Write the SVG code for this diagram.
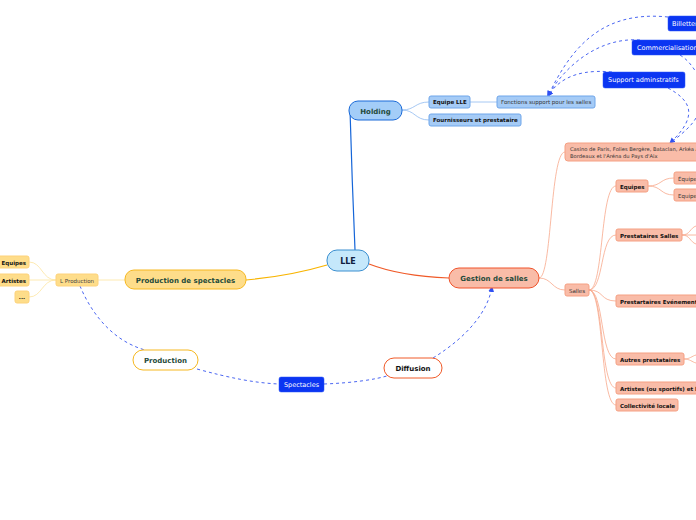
<svg xmlns="http://www.w3.org/2000/svg" width="696" height="520" viewBox="0 0 696 520">
<style>
text{font-family:"DejaVu Sans","Liberation Sans",sans-serif;}
.b{font-weight:bold;}
.dash{fill:none;stroke:#4a66f2;stroke-width:1;stroke-dasharray:3,3;}
.sal{fill:none;stroke:#f8a88c;stroke-width:0.8;}
.salN{fill:#f9bca8;stroke:#f5a083;stroke-width:1;}
.hold{fill:#a5cbf6;stroke:#6fa6ea;stroke-width:1;}
.dark{fill:#0b35f2;stroke:#2a55f5;stroke-width:0.5;}
.prodN{fill:#fedd8a;stroke:#fdd27a;stroke-width:1;}
.t6{font-size:6px;fill:#222;}
.w{fill:#fff;font-size:6.5px;}
</style>
<defs>
<marker id="ar" viewBox="0 0 6 6" refX="5" refY="3" markerWidth="6" markerHeight="6" orient="auto">
<path d="M0,0 L6,3 L0,6 z" fill="#2f50f2"/>
</marker>
</defs>
<rect width="696" height="520" fill="#fff"/>
<g id="connectors">
<path d="M355,250 Q352,180 350,110" fill="none" stroke="#1565d8" stroke-width="1.2"/>
<path d="M369,264 Q400,276 449,278" fill="none" stroke="#f05a28" stroke-width="1.2"/>
<path d="M327,265 Q290,276 246,280" fill="none" stroke="#f8b400" stroke-width="1.2"/>
<path d="M402,110 C415,110 415,102 429,102" fill="none" stroke="#8fbaf0" stroke-width="0.8"/>
<path d="M402,110 C415,110 415,120 429,120" fill="none" stroke="#8fbaf0" stroke-width="0.8"/>
<path d="M470,102 L497,102" fill="none" stroke="#8fbaf0" stroke-width="0.8"/>
<path d="M539,278 C552,278 550,152 565,152" class="sal"/>
<path d="M539,278 C552,278 552,290 565,290" class="sal"/>
<path d="M589,290 C604,290 600,186 616,186" class="sal"/>
<path d="M589,290 C604,290 600,235 616,235" class="sal"/>
<path d="M589,290 C604,290 600,301 616,301" class="sal"/>
<path d="M589,290 C604,290 600,359 616,359" class="sal"/>
<path d="M589,290 C604,290 600,388 616,388" class="sal"/>
<path d="M589,290 C604,290 600,405 616,405" class="sal"/>
<path d="M648,186 C662,186 660,178 674,178" class="sal"/>
<path d="M648,186 C662,186 660,195 674,195" class="sal"/>
<path d="M682,235 C690,235 690,228 696,226" class="sal"/>
<path d="M682,235 L696,235" class="sal"/>
<path d="M682,235 C690,235 690,242 696,244" class="sal"/>
<path d="M684,359 C690,359 692,356 696,355" class="sal"/>
<path d="M684,359 C690,359 692,362 696,363" class="sal"/>
<path d="M98,280 L125,280" fill="none" stroke="#fde4a0" stroke-width="0.8"/>
<path d="M56,280 C42,280 42,262 29,262" fill="none" stroke="#fde4a0" stroke-width="0.8"/>
<path d="M56,280 L29,280" fill="none" stroke="#fde4a0" stroke-width="0.8"/>
<path d="M56,280 C42,280 42,297 29,297" fill="none" stroke="#fde4a0" stroke-width="0.8"/>
<path d="M668,17 C600,10 570,50 548,96" class="dash" marker-end="url(#ar)"/>
<path d="M640,40 C600,37 565,65 548,96" class="dash" marker-end="url(#ar)"/>
<path d="M612,72 C570,68 555,85 548,96" class="dash" marker-end="url(#ar)"/>
<path d="M680,55 C688,60 692,66 696,72" class="dash"/>
<path d="M668,88 C690,100 700,115 670,143" class="dash" marker-end="url(#ar)"/>
<path d="M696,118 C690,128 680,135 672,142" class="dash"/>
<path d="M80,286 C90,310 110,340 145,350" class="dash"/>
<path d="M197,369 C230,378 255,383 279,384" class="dash"/>
<path d="M324,384 C350,383 375,380 390,375" class="dash"/>
<path d="M433,358 C470,335 488,310 492,287" class="dash" marker-end="url(#ar)"/>
</g>
<g id="lle">
<rect x="327" y="250" width="42" height="21" rx="10" fill="#c5e8fb" stroke="#3a8fd0" stroke-width="1"/>
<text x="348" y="264" text-anchor="middle" class="b" font-size="8" fill="#102040">LLE</text>
</g>
<g id="holding">
<rect x="349" y="101" width="53" height="19" rx="9" fill="#a3cdf8" stroke="#1a6ad8" stroke-width="1"/>
<text x="375.5" y="113.5" text-anchor="middle" class="b" font-size="7" fill="#1f4a3a">Holding</text>
</g>
<g id="equipe-lle">
<rect x="429" y="96" width="41" height="12" rx="2" class="hold"/>
<text x="433" y="104" class="b" font-size="5.5" fill="#111">Equipe LLE</text>
</g>
<g id="fournisseurs">
<rect x="429" y="114" width="92" height="12" rx="2" class="hold"/>
<text x="433" y="122" class="b" font-size="5.5" fill="#111">Fournisseurs et prestataire</text>
</g>
<g id="fonctions">
<rect x="497" y="96" width="98" height="12" rx="2" class="hold"/>
<text x="501" y="104" font-size="5.5" fill="#333">Fonctions support pour les salles</text>
</g>
<g id="billetterie">
<rect x="668" y="16" width="40" height="15" rx="2" class="dark"/>
<text x="672" y="26" class="w">Billetterie</text>
</g>
<g id="commercialisation">
<rect x="632" y="40" width="70" height="15" rx="2" class="dark"/>
<text x="637" y="50" class="w">Commercialisation</text>
</g>
<g id="support">
<rect x="603" y="72" width="82" height="16" rx="2" class="dark"/>
<text x="608" y="82" class="w">Support adminstratifs</text>
</g>
<g id="casino">
<rect x="565" y="143" width="145" height="18" rx="3" class="salN"/>
<text x="570" y="151" font-size="5.2" fill="#333">Casino de Paris, Folies Bergère, Bataclan, Arkéa Arena</text>
<text x="570" y="158" font-size="5.2" fill="#333">Bordeaux et l'Aréna du Pays d'Aix</text>
</g>
<g id="gestion">
<rect x="449" y="268" width="90" height="20" rx="10" fill="#f9bca8" stroke="#f0522a" stroke-width="1"/>
<text x="494" y="281" text-anchor="middle" class="b" font-size="7" fill="#1f4a3a">Gestion de salles</text>
</g>
<g id="salles">
<rect x="565" y="284" width="24" height="12" rx="2" class="salN"/>
<text x="577" y="292.5" text-anchor="middle" font-size="5.5" fill="#333">Salles</text>
</g>
<g id="equipes-s">
<rect x="616" y="180" width="32" height="12" rx="2" class="salN"/>
<text x="620" y="188.5" class="b" font-size="5.5" fill="#111">Equipes</text>
</g>
<g id="equipe-1">
<rect x="674" y="172" width="40" height="12" rx="2" class="salN"/>
<text x="678" y="180.5" font-size="5.5" fill="#333">Équipe</text>
</g>
<g id="equipe-2">
<rect x="674" y="189" width="40" height="12" rx="2" class="salN"/>
<text x="678" y="197.5" font-size="5.5" fill="#333">Equipe</text>
</g>
<g id="prest-salles">
<rect x="616" y="229" width="66" height="12" rx="2" class="salN"/>
<text x="620" y="237.5" class="b" font-size="5.5" fill="#111">Prestataires Salles</text>
</g>
<g id="prest-evt">
<rect x="616" y="295" width="95" height="12" rx="2" class="salN"/>
<text x="620" y="303.5" class="b" font-size="5.5" fill="#111">Prestartaires Evénements</text>
</g>
<g id="autres">
<rect x="616" y="353" width="68" height="12" rx="2" class="salN"/>
<text x="620" y="361.5" class="b" font-size="5.5" fill="#111">Autres prestataires</text>
</g>
<g id="artistes-s">
<rect x="616" y="382" width="95" height="12" rx="2" class="salN"/>
<text x="620" y="390.5" class="b" font-size="5.5" fill="#111">Artistes (ou sportifs) et leurs</text>
</g>
<g id="collectivite">
<rect x="616" y="399" width="62" height="12" rx="2" class="salN"/>
<text x="620" y="407.5" class="b" font-size="5.5" fill="#111">Collectivité locale</text>
</g>
<g id="prod-spectacles">
<rect x="125" y="270" width="121" height="19" rx="9" fill="#fedd8a" stroke="#f6b820" stroke-width="1"/>
<text x="185.5" y="282.5" text-anchor="middle" class="b" font-size="7" fill="#1f4a3a">Production de spectacles</text>
</g>
<g id="l-production">
<rect x="56" y="274" width="42" height="12" rx="2" class="prodN"/>
<text x="77" y="282.5" text-anchor="middle" font-size="5.5" fill="#444">L Production</text>
</g>
<g id="equipes-p">
<rect x="-5" y="256" width="34" height="12" rx="2" class="prodN"/>
<text x="26" y="264.5" text-anchor="end" class="b" font-size="5.5" fill="#111">Equipes</text>
</g>
<g id="artistes-p">
<rect x="-5" y="274" width="34" height="12" rx="2" class="prodN"/>
<text x="26" y="282.5" text-anchor="end" class="b" font-size="5.5" fill="#111">Artistes</text>
</g>
<g id="etc">
<rect x="15" y="291" width="14" height="12" rx="2" class="prodN"/>
<text x="22" y="299" text-anchor="middle" class="b" font-size="5.5" fill="#111">...</text>
</g>
<g id="production">
<rect x="133" y="350" width="65" height="20" rx="10" fill="#fff" stroke="#f6b820" stroke-width="1"/>
<text x="165.5" y="363" text-anchor="middle" class="b" font-size="7" fill="#1f4a3a">Production</text>
</g>
<g id="spectacles">
<rect x="279" y="377" width="45" height="15" rx="2" class="dark"/>
<text x="301.5" y="387" text-anchor="middle" class="w">Spectacles</text>
</g>
<g id="diffusion">
<rect x="384" y="358" width="58" height="20" rx="10" fill="#fff" stroke="#f05a28" stroke-width="1"/>
<text x="413" y="371" text-anchor="middle" class="b" font-size="7" fill="#111">Diffusion</text>
</g>
</svg>
